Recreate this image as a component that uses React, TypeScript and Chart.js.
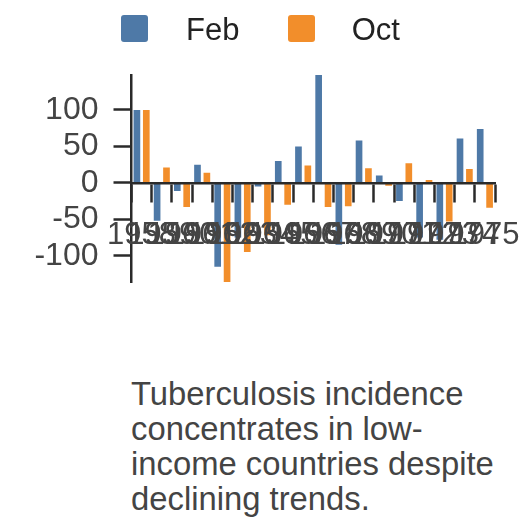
import React, { useEffect, useRef } from 'react';
import { Chart, registerables } from 'chart.js';

Chart.register(...registerables);

const years = ['1958', '1959', '1960', '1961', '1962', '1963', '1964', '1965', '1966', '1967', '1968', '1969', '1970', '1971', '1972', '1973', '1974', '1975'];
const febValues = [100, -52, -11, 25, -115, -75, -5, 30, 50, 148, -85, 58, 10, -25, -75, -78, 61, 74];
const octValues = [100, 21, -33, 14, -136, -95, -72, -30, 24, -33, -32, 20, -4, 27, 4, -53, 19, -34];
const seriesNames = ['Feb', 'Oct'];
const seriesColors = ['#4e79a7', '#f28e2b'];
const yStep = 50;
const caption = 'Tuberculosis incidence concentrates in low-income countries despite declining trends.';

const FONT = '"Liberation Sans", Arial, Helvetica, sans-serif';
const AXIS = '#2a2a2a';

export default function App() {
  const ref = useRef<HTMLCanvasElement | null>(null);

  useEffect(() => {
    if (!ref.current) return;
    const all = [...febValues, ...octValues];
    const chart = new Chart(ref.current, {
      type: 'bar',
      data: {
        labels: years,
        datasets: [
          { label: seriesNames[0], data: febValues, backgroundColor: seriesColors[0], borderWidth: 0 },
          { label: seriesNames[1], data: octValues, backgroundColor: seriesColors[1], borderWidth: 0 },
        ],
      },
      options: {
        responsive: false,
        animation: false,
        devicePixelRatio: 1,
        layout: { padding: { left: 0, top: 67, right: 25, bottom: 26 } },
        datasets: { bar: { categoryPercentage: 0.93, barPercentage: 0.71 } },
        plugins: { legend: { display: false }, tooltip: { enabled: false }, title: { display: false } },
        scales: {
          x: {
            type: 'category',
            position: { y: 0 } as any,
            offset: true,
            grid: { offset: true, drawOnChartArea: false, drawTicks: true, tickLength: 18, tickWidth: 2.5, tickColor: AXIS },
            border: { display: true, color: AXIS, width: 2.5, z: 1 } as any,
            ticks: { autoSkip: false, maxRotation: 0, minRotation: 0, padding: 16, color: '#444', font: { family: FONT, size: 31 }, z: 1 },
            afterFit: (s: any) => { s.paddingLeft = 0; s.paddingRight = 0; },
          },
          y: {
            min: Math.min(...all),
            max: Math.max(...all),
            grid: { drawOnChartArea: false, drawTicks: true, tickLength: 18, tickWidth: 2.5, tickColor: AXIS },
            border: { display: true, color: AXIS, width: 2.5 },
            ticks: { stepSize: yStep, includeBounds: false, padding: 15, color: '#444', font: { family: FONT, size: 32 } },
            afterFit: (s: any) => { s.width = 123.5; s.paddingTop = 0; s.paddingBottom = 0; },
          },
        },
      },
    });
    return () => chart.destroy();
  }, []);

  const legendX = [112.7, 279.7];
  const textX = [178, 343.7];

  return (
    <div style={{ position: 'relative', width: 512, height: 512, fontFamily: FONT }}>
      <canvas ref={ref} width={512} height={300} style={{ position: 'absolute', left: 0, top: 0, width: 512, height: 300 }} />
      {seriesNames.map((n, i) => (
        <React.Fragment key={n}>
          <div style={{ position: 'absolute', left: legendX[i], top: 7, width: 27, height: 27, borderRadius: 3, background: seriesColors[i] }} />
          <span style={{ position: 'absolute', left: textX[i], top: 5.75, fontSize: 31, lineHeight: '31px', color: '#222', whiteSpace: 'nowrap' }}>{n}</span>
        </React.Fragment>
      ))}
      <div style={{ position: 'absolute', left: 123, top: 368, width: 380, fontSize: 32.8, lineHeight: '35px', color: '#444' }}>
        {caption}
      </div>
    </div>
  );
}
